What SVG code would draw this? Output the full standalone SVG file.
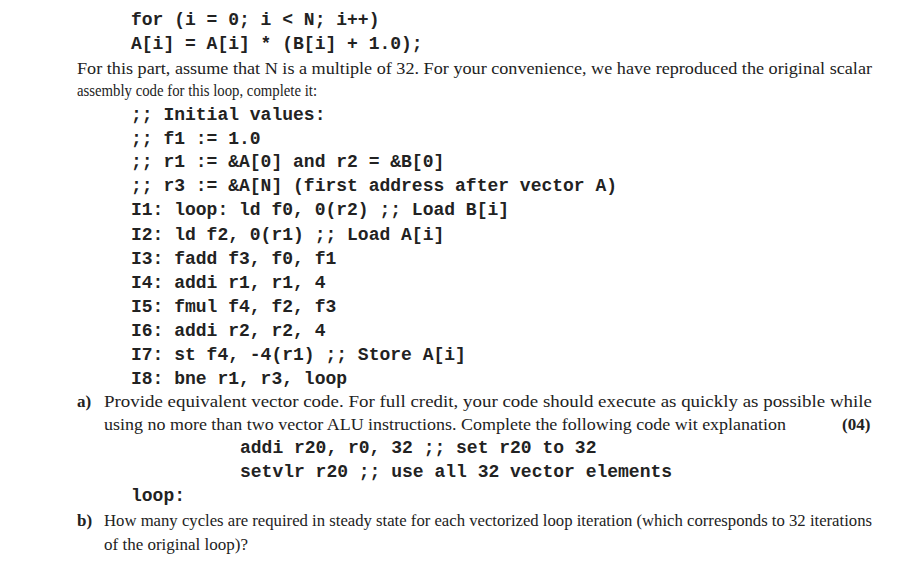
<svg xmlns="http://www.w3.org/2000/svg" width="905" height="579" viewBox="0 0 905 579">
<style>
.m{font-family:"Liberation Mono","Courier New",monospace;font-weight:bold;font-size:18px;fill:#222;white-space:pre}
.s{font-family:"Liberation Serif","Times New Roman",serif;font-size:17px;fill:#222}
.b{font-weight:bold}
</style>
<rect width="905" height="579" fill="#fff"/>
<g id="code1">
<text class="m" x="131" y="25" xml:space="preserve">for (i = 0; i &lt; N; i++)</text>
<text class="m" x="131" y="49" xml:space="preserve">A[i] = A[i] * (B[i] + 1.0);</text>
</g>
<g id="intro">
<text class="s" x="77" y="74" textLength="795" lengthAdjust="spacingAndGlyphs">For this part, assume that N is a multiple of 32. For your convenience, we have reproduced the original scalar</text>
<text class="s" x="77" y="96" textLength="240" lengthAdjust="spacingAndGlyphs">assembly code for this loop, complete it:</text>
</g>
<g id="asm">
<text class="m" x="131" y="120" xml:space="preserve">;; Initial values:</text>
<text class="m" x="131" y="144" xml:space="preserve">;; f1 := 1.0</text>
<text class="m" x="131" y="167" xml:space="preserve">;; r1 := &amp;A[0] and r2 = &amp;B[0]</text>
<text class="m" x="131" y="191" xml:space="preserve">;; r3 := &amp;A[N] (first address after vector A)</text>
<text class="m" x="131" y="215" xml:space="preserve">I1: loop: ld f0, 0(r2) ;; Load B[i]</text>
<text class="m" x="131" y="240" xml:space="preserve">I2: ld f2, 0(r1) ;; Load A[i]</text>
<text class="m" x="131" y="264" xml:space="preserve">I3: fadd f3, f0, f1</text>
<text class="m" x="131" y="288" xml:space="preserve">I4: addi r1, r1, 4</text>
<text class="m" x="131" y="312" xml:space="preserve">I5: fmul f4, f2, f3</text>
<text class="m" x="131" y="336" xml:space="preserve">I6: addi r2, r2, 4</text>
<text class="m" x="131" y="360" xml:space="preserve">I7: st f4, -4(r1) ;; Store A[i]</text>
<text class="m" x="131" y="384" xml:space="preserve">I8: bne r1, r3, loop</text>
</g>
<g id="partA">
<text class="s b" x="77" y="407">a)</text>
<text class="s" x="104" y="407" textLength="768" lengthAdjust="spacingAndGlyphs">Provide equivalent vector code. For full credit, your code should execute as quickly as possible while</text>
<text class="s" x="104" y="430" textLength="682" lengthAdjust="spacingAndGlyphs">using no more than two vector ALU instructions. Complete the following code wit explanation</text>
<text class="s b" x="842" y="430">(04)</text>
<text class="m" x="240" y="453" xml:space="preserve">addi r20, r0, 32 ;; set r20 to 32</text>
<text class="m" x="240" y="477" xml:space="preserve">setvlr r20 ;; use all 32 vector elements</text>
<text class="m" x="131" y="501" xml:space="preserve">loop:</text>
</g>
<g id="partB">
<text class="s b" x="77" y="526">b)</text>
<text class="s" x="104" y="526" textLength="768" lengthAdjust="spacingAndGlyphs">How many cycles are required in steady state for each vectorized loop iteration (which corresponds to 32 iterations</text>
<text class="s" x="104" y="550">of the original loop)?</text>
</g>
<g id="connectors"/>
</svg>
